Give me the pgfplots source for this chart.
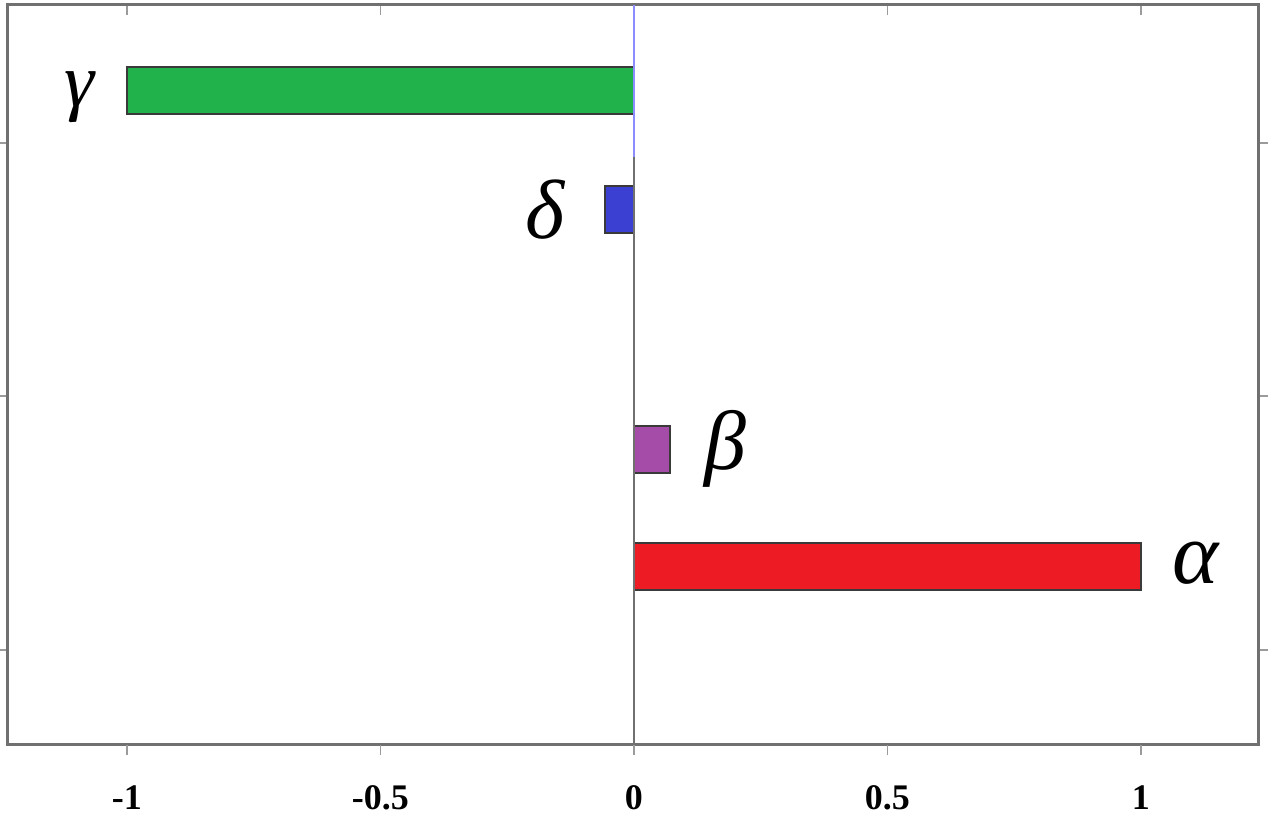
\documentclass[border=0pt]{standalone}
\usepackage{fontspec}
\setmainfont{Liberation Serif}
\usepackage{pgfplots}
\pgfplotsset{compat=1.18}
\definecolor{axgray}{HTML}{707070}
\definecolor{cgreen}{HTML}{22B24C}
\definecolor{cblue}{HTML}{3B40D2}
\definecolor{cpurple}{HTML}{A54BA8}
\definecolor{cred}{HTML}{ED1C24}
\definecolor{edge}{HTML}{3A3A3A}
\begin{document}
\begin{tikzpicture}
\useasboundingbox (-4pt,-38.5pt) rectangle (636pt,372.5pt);
\pgfplotsset{every axis/.style={
  scale only axis, width=625pt, height=370pt,
  xmin=-1.2347, xmax=1.2308, ymin=0, ymax=740,
  clip=false}}
\begin{axis}[
  axis line style={axgray, line width=1.5pt},
  tick align=inside,
  xtick={-1,-0.5,0,0.5,1}, xticklabels={},
  xtick pos=top,
  ytick={95,349,602}, yticklabels={},
  ytick pos=both,
  major tick length=5pt,
  every tick/.style={axgray!70, line width=0.6pt},
  xbar, bar shift=0pt, bar width=47,
]
\addplot[xbar, fill=cgreen, draw=edge, line width=1pt] coordinates {(-1,654.5)};
\addplot[xbar, fill=cblue, draw=edge, line width=1pt] coordinates {(-0.057,535.5)};
\addplot[xbar, fill=cpurple, draw=edge, line width=1pt] coordinates {(0.071,295.5)};
\addplot[xbar, fill=cred, draw=edge, line width=1pt] coordinates {(1,178.5)};
\addplot[sharp plot, no marks, draw=axgray, line width=1pt] coordinates {(0,0) (0,588)};
\addplot[sharp plot, no marks, draw=blue!45, line width=0.8pt] coordinates {(0,588) (0,740)};
\node[font=\fontsize{38}{38}\selectfont\itshape] at (axis cs:-1.093,648) {γ};
\node[font=\fontsize{42}{42}\selectfont\itshape] at (axis cs:-0.176,535) {δ};
\node[font=\fontsize{42}{42}\selectfont\itshape] at (axis cs:0.18,296) {β};
\node[font=\fontsize{44}{44}\selectfont\itshape] at (axis cs:1.107,182) {α};
\end{axis}
\begin{axis}[
  hide y axis, axis x line*=bottom, axis line style={draw=none},
  xtick={-1,-0.5,0,0.5,1},
  xticklabels={-1,-0.5,0,0.5,1},
  tick align=outside, major tick length=5pt,
  every tick/.style={axgray!70, line width=0.6pt},
  xticklabel style={font=\fontsize{18}{18}\selectfont\bfseries, yshift=-12pt},
]
\addplot[draw=none] coordinates {(0,0)};
\end{axis}
\end{tikzpicture}
\end{document}
